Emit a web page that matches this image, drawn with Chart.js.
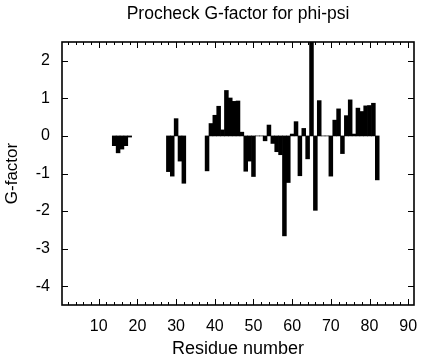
<!DOCTYPE html>
<html>
<head>
<meta charset="utf-8">
<script src="https://cdn.jsdelivr.net/npm/chart.js@4.4.1/dist/chart.umd.min.js"></script>
<style>
  html, body { margin: 0; padding: 0; background: #fff; }
  #wrap { width: 423px; height: 360px; }
</style>
</head>
<body>
<div id="wrap"><canvas id="c" width="423" height="360"></canvas></div>
<script>
// Residue numbers and their Procheck phi-psi G-factors
const residues = [14, 15, 16, 17, 18,
  28, 29, 30, 31, 32,
  38, 39, 40, 41, 42, 43, 44, 45, 46, 47, 48, 49, 50,
  51, 52, 53, 54, 55, 56, 57, 58, 59, 60, 61, 62, 63, 64, 65, 66, 67,
  68, 69, 70, 71, 72, 73, 74, 75, 76, 77, 78, 79, 80, 81, 82];
const gFactor = [-0.26, -0.45, -0.35, -0.26, -0.03,
  -0.95, -1.07, 0.46, -0.67, -1.26,
  -0.93, 0.33, 0.55, 0.79, 0.16, 1.21, 1.01, 0.92, 0.93, 0.10, -0.94, -0.67, -1.08,
  0, 0, -0.13, 0.29, -0.20, -0.42, -0.50, -2.66, -1.24, 0.05, 0.38, -1.06, 0.20, -0.61, 2.6, -1.98, 0.94,
  0, 0, -1.07, 0.42, 0.72, -0.47, 0.54, 0.96, 0.05, 0.74, 0.65, 0.80, 0.81, 0.87, -1.17];
const xTicks = [10, 20, 30, 40, 50, 60, 70, 80, 90];
const xMinorTicks = [2, 4, 6, 8, 12, 14, 16, 18, 22, 24, 26, 28, 32, 34, 36, 38, 42, 44, 46, 48,
  52, 54, 56, 58, 62, 64, 66, 68, 72, 74, 76, 78, 82, 84, 86, 88, 90];
const yTicks = [-4, -3, -2, -1, 0, 1, 2];

const FONT = "'Liberation Sans', Arial, Helvetica, sans-serif";

const framePlugin = {
  id: 'frame',
  afterDraw(chart) {
    const ctx = chart.ctx;
    const a = chart.chartArea;
    const xs = chart.scales.x, ys = chart.scales.y;
    ctx.save();
    ctx.strokeStyle = '#000';
    ctx.lineWidth = 1;
    // inward ticks
    ctx.beginPath();
    xTicks.forEach(v => {
      const p = Math.round(xs.getPixelForValue(v)) + 0.5;
      ctx.moveTo(p, a.bottom); ctx.lineTo(p, a.bottom - 6);
      ctx.moveTo(p, a.top); ctx.lineTo(p, a.top + 6);
    });
    xMinorTicks.forEach(v => {
      const p = Math.round(xs.getPixelForValue(v)) + 0.5;
      ctx.moveTo(p, a.bottom); ctx.lineTo(p, a.bottom - 3);
      ctx.moveTo(p, a.top); ctx.lineTo(p, a.top + 3);
    });
    yTicks.forEach(v => {
      const p = Math.round(ys.getPixelForValue(v)) + 0.5;
      ctx.moveTo(a.left, p); ctx.lineTo(a.left + 6, p);
      ctx.moveTo(a.right, p); ctx.lineTo(a.right - 6, p);
    });
    ctx.stroke();
    // frame
    ctx.lineWidth = 1.6;
    ctx.strokeRect(a.left, a.top, a.right - a.left, a.bottom - a.top);
    ctx.restore();
  }
};

new Chart(document.getElementById('c'), {
  type: 'bar',
  data: {
    datasets: [{
      data: residues.map((r, i) => ({ x: r, y: gFactor[i] })),
      backgroundColor: '#000',
      borderWidth: 0,
      barPercentage: 1.0,
      categoryPercentage: 1.0
    }]
  },
  options: {
    responsive: false,
    animation: false,
    devicePixelRatio: 1,
    layout: { padding: { left: 0, right: 9, top: 0, bottom: 0 } },
    plugins: {
      legend: { display: false },
      tooltip: { enabled: false },
      title: {
        display: true,
        fullSize: false,
        text: 'Procheck G-factor for phi-psi',
        color: '#000',
        font: { family: FONT, size: 17.5, weight: 'normal' },
        padding: { top: 4, bottom: 17 }
      }
    },
    scales: {
      x: {
        type: 'linear',
        min: 0.5,
        max: 91.5,
        offset: false,
        grid: { display: false, drawTicks: false },
        border: { display: false },
        afterBuildTicks: s => { s.ticks = xTicks.map(v => ({ value: v })); },
        afterFit: s => { s.height = 55; s.paddingLeft = 0; s.paddingRight = 0; },
        ticks: {
          color: '#000',
          font: { family: FONT, size: 16 },
          padding: 12,
          maxRotation: 0,
          autoSkip: false
        },
        title: {
          display: true,
          text: 'Residue number',
          color: '#000',
          font: { family: FONT, size: 18 },
          padding: { top: 7, bottom: 0 }
        }
      },
      y: {
        min: -4.5,
        max: 2.5,
        grid: { display: false, drawTicks: false },
        border: { display: false },
        afterBuildTicks: s => { s.ticks = yTicks.map(v => ({ value: v })); },
        afterFit: s => { s.width = 62; s.paddingTop = 0; s.paddingBottom = 0; },
        ticks: {
          color: '#000',
          font: { family: FONT, size: 16 },
          padding: 12
        },
        title: {
          display: true,
          text: 'G-factor',
          color: '#000',
          font: { family: FONT, size: 17 },
          padding: { top: 2, bottom: 4 }
        }
      }
    }
  },
  plugins: [framePlugin]
});
</script>
</body>
</html>
